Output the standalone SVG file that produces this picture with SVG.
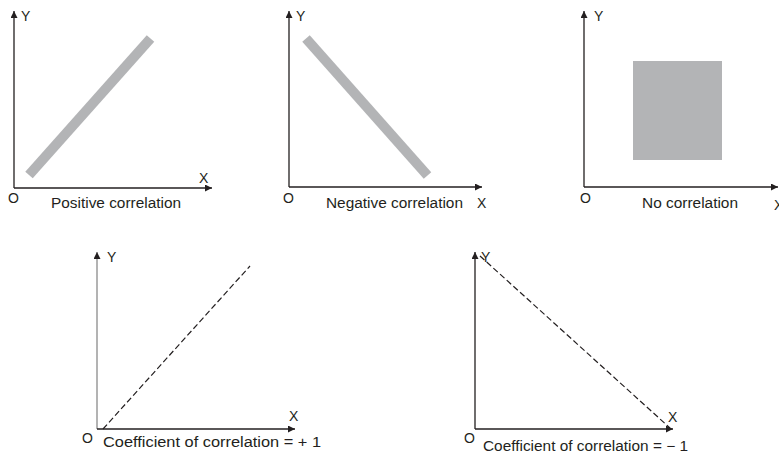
<svg xmlns="http://www.w3.org/2000/svg" width="779" height="456" viewBox="0 0 779 456">
<style>
text{font-family:"Liberation Sans",Arial,sans-serif;font-size:14px;fill:#231f20}
.ax{stroke:#231f20;stroke-width:1.3;fill:none}
.axg{stroke:#8a8a8a;stroke-width:1.3;fill:none}
.band{stroke:#b3b4b6;stroke-width:10;fill:none}
.dash{stroke:#231f20;stroke-width:1.2;stroke-dasharray:6 3;fill:none}
</style>
<defs>
<marker id="ah" viewBox="0 0 10 10" refX="10" refY="5" markerWidth="7" markerHeight="7" markerUnits="userSpaceOnUse" orient="auto">
<path d="M0,0 L10,5 L0,10 Z" fill="#231f20"/>
</marker>
</defs>
<g id="connectors">
<!-- panel 1 axes -->
<path class="ax" d="M14,188 V11" marker-end="url(#ah)"/>
<path class="ax" d="M14,188 H212" marker-end="url(#ah)"/>
<!-- panel 2 axes -->
<path class="ax" d="M289,187 V11" marker-end="url(#ah)"/>
<path class="ax" d="M289,187 H482" marker-end="url(#ah)"/>
<!-- panel 3 axes -->
<path class="ax" d="M584,187 V11" marker-end="url(#ah)"/>
<path class="ax" d="M584,187 H778" marker-end="url(#ah)"/>
<!-- panel 4 axes -->
<path class="axg" d="M97,429 V252" marker-end="url(#ah)"/>
<path class="ax" d="M97,429 H295" marker-end="url(#ah)"/>
<!-- panel 5 axes -->
<path class="ax" d="M475,429 V252" marker-end="url(#ah)"/>
<path class="ax" d="M475,429 H673" marker-end="url(#ah)"/>
</g>
<g id="positive">
<line class="band" x1="29" y1="175" x2="150.5" y2="38.5"/>
<text x="21" y="21">Y</text>
<text x="199" y="183">X</text>
<text x="8" y="203">O</text>
<text x="51" y="208" textLength="130" lengthAdjust="spacingAndGlyphs">Positive correlation</text>
</g>
<g id="negative">
<line class="band" x1="306" y1="38.5" x2="427.5" y2="175.5"/>
<text x="296" y="21">Y</text>
<text x="477" y="208">X</text>
<text x="283" y="203">O</text>
<text x="326" y="208" textLength="137" lengthAdjust="spacingAndGlyphs">Negative correlation</text>
</g>
<g id="none">
<rect x="633" y="61" width="89" height="99" fill="#b3b4b6"/>
<text x="594" y="21">Y</text>
<text x="774" y="210">X</text>
<text x="580" y="203">O</text>
<text x="642" y="208" textLength="96" lengthAdjust="spacingAndGlyphs">No correlation</text>
</g>
<g id="plus-one">
<line class="dash" x1="103" y1="429" x2="250" y2="266"/>
<text x="107" y="262">Y</text>
<text x="289" y="421">X</text>
<text x="82" y="443">O</text>
<text x="103" y="447" textLength="218" lengthAdjust="spacingAndGlyphs">Coefficient of correlation = + 1</text>
</g>
<g id="minus-one">
<line class="dash" x1="480" y1="256" x2="670" y2="428"/>
<text x="481" y="262">Y</text>
<text x="668" y="422">X</text>
<text x="464" y="443">O</text>
<text x="483" y="451" textLength="205" lengthAdjust="spacingAndGlyphs">Coefficient of correlation = − 1</text>
</g>
</svg>
